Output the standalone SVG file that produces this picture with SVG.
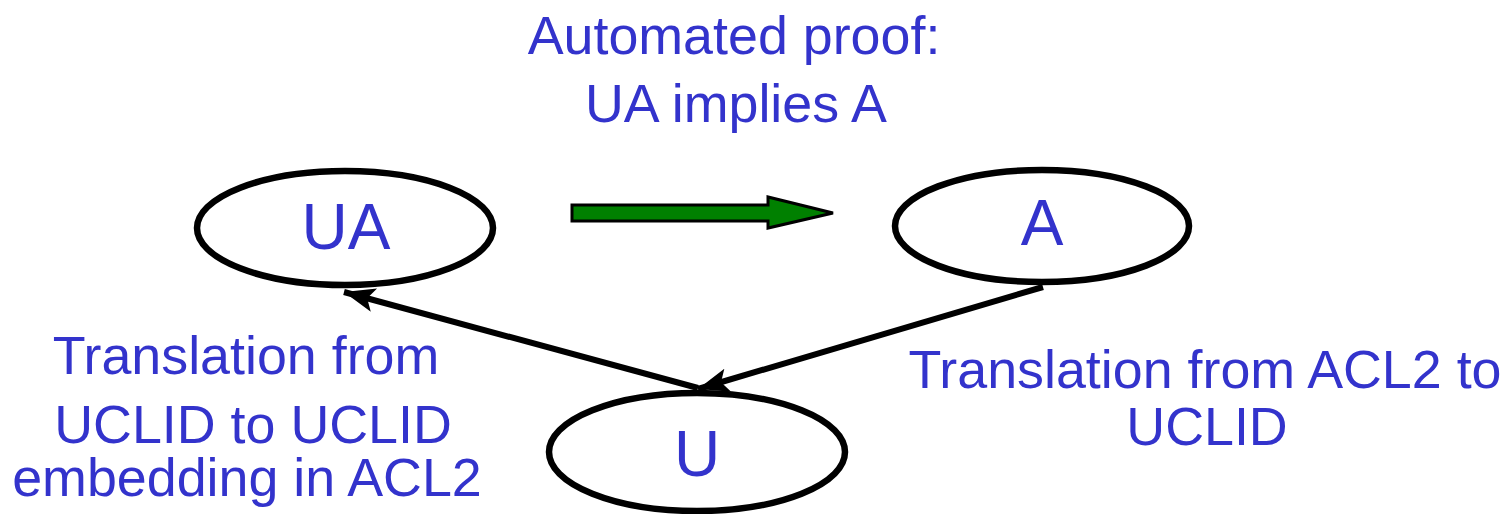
<svg xmlns="http://www.w3.org/2000/svg" width="1511" height="514" viewBox="0 0 1511 514">
  <defs>
    <style>
      .node ellipse { fill: #ffffff; stroke: #000000; stroke-width: 6.5; }
      .lbl { font-family: "Liberation Sans", Arial, sans-serif; fill: #3333cc; text-anchor: middle; }
      .big { font-size: 64px; }
      .cap { font-size: 53.8px; }
      .edge { stroke: #000000; stroke-width: 6; fill: none; marker-end: url(#head); }
    </style>
    <marker id="head" markerUnits="userSpaceOnUse" markerWidth="34" markerHeight="34" viewBox="0 0 34 34" refX="31" refY="17" orient="auto">
      <path d="M0,5 L31,17 L0,29 L7,17 Z" fill="#000000"/>
    </marker>
  </defs>

  <!-- connectors -->
  <g id="connectors">
    <line class="edge" x1="698" y1="388" x2="344" y2="292"/>
    <line class="edge" x1="1043" y1="287" x2="698" y2="389"/>
    <path id="proof-arrow" d="M572,205 L768,205 L768,197 L833,213 L768,228 L768,221 L572,221 Z" fill="#008000" stroke="#000000" stroke-width="3" stroke-linejoin="miter"/>
  </g>

  <g id="node-UA" class="node">
    <ellipse cx="345" cy="228" rx="148" ry="57"/>
    <text class="lbl big" x="346" y="249">UA</text>
  </g>

  <g id="node-A" class="node">
    <ellipse cx="1042" cy="226" rx="147" ry="56"/>
    <text class="lbl big" x="1042" y="245">A</text>
  </g>

  <g id="node-U" class="node">
    <ellipse cx="697" cy="452" rx="148" ry="59"/>
    <text class="lbl big" x="697" y="476">U</text>
  </g>

  <g id="label-proof">
    <text class="lbl cap" x="734" y="54">Automated proof:</text>
    <text class="lbl cap" x="736" y="122">UA implies A</text>
  </g>

  <g id="label-left">
    <text class="lbl cap" x="246" y="374">Translation from</text>
    <text class="lbl cap" x="253" y="443">UCLID to UCLID</text>
    <text class="lbl cap" x="247" y="496">embedding in ACL2</text>
  </g>

  <g id="label-right">
    <text class="lbl cap" x="1205" y="388">Translation from ACL2 to</text>
    <text class="lbl cap" x="1207" y="445">UCLID</text>
  </g>
</svg>
